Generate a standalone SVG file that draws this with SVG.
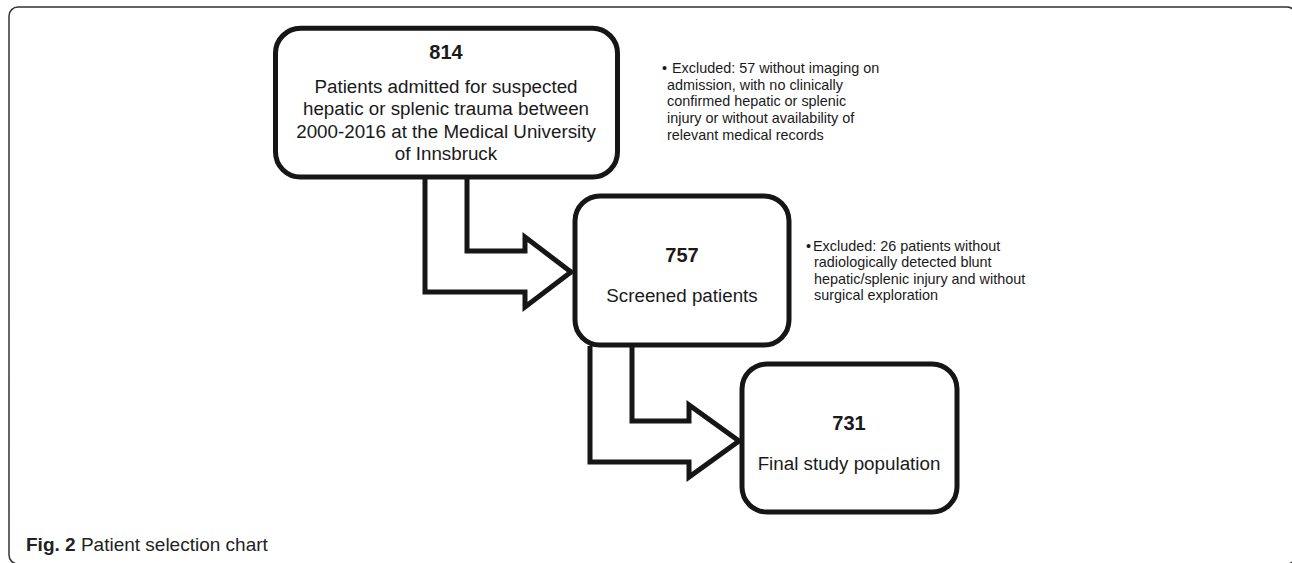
<svg xmlns="http://www.w3.org/2000/svg" width="1292" height="563" viewBox="0 0 1292 563">
<style>
.frame{fill:none;stroke:#333;stroke-width:1.5}
.box{fill:#fff;stroke:#161616;stroke-width:5}
.conn{fill:#fff;stroke:#161616;stroke-width:5;stroke-linejoin:miter;stroke-miterlimit:10}
.num{font-family:"Liberation Sans",Arial,sans-serif;font-weight:bold;font-size:20px;fill:#1a1a1a;text-anchor:middle}
.lbl{font-family:"Liberation Sans",Arial,sans-serif;font-size:18.8px;fill:#1a1a1a;text-anchor:middle}
.note{font-family:"Liberation Sans",Arial,sans-serif;font-size:14.4px;fill:#1a1a1a}
.cap{font-family:"Liberation Sans",Arial,sans-serif;font-size:19px;fill:#222}
</style>
<rect class="frame" x="9" y="7" width="1287" height="557" rx="9"/>
<g id="connectors">
<path class="conn" d="M425,177 V292 H525 V307 L571,272 L525,237 V251 H467 V177"/>
<path class="conn" d="M590,346 V462 H689 V477 L739,441 L689,405 V421 H632 V346"/>
</g>
<g id="node-814">
<rect class="box" x="275.5" y="28.3" width="342" height="148.7" rx="25"/>
<text class="num" x="446" y="59">814</text>
<text class="lbl" x="446" y="92.5">Patients admitted for suspected</text>
<text class="lbl" x="446" y="115">hepatic or splenic trauma between</text>
<text class="lbl" x="446" y="137.5">2000-2016 at the Medical University</text>
<text class="lbl" x="446" y="160">of Innsbruck</text>
</g>
<g id="node-757">
<rect class="box" x="575" y="196" width="214" height="149" rx="25"/>
<text class="num" x="682" y="262">757</text>
<text class="lbl" x="682" y="302">Screened patients</text>
</g>
<g id="node-731">
<rect class="box" x="742" y="364" width="215" height="148" rx="25"/>
<text class="num" x="849" y="430">731</text>
<text class="lbl" x="849" y="470">Final study population</text>
</g>
<g id="note-1">
<text class="note" x="662" y="73">•</text>
<text class="note" x="672" y="73">Excluded: 57 without imaging on</text>
<text class="note" x="667" y="89.5">admission, with no clinically</text>
<text class="note" x="667" y="106">confirmed hepatic or splenic</text>
<text class="note" x="667" y="123">injury or without availability of</text>
<text class="note" x="667" y="140">relevant medical records</text>
</g>
<g id="note-2">
<text class="note" x="806" y="250.5">•</text>
<text class="note" x="813" y="250.5">Excluded: 26 patients without</text>
<text class="note" x="814" y="267">radiologically detected blunt</text>
<text class="note" x="814" y="283.5">hepatic/splenic injury and without</text>
<text class="note" x="814" y="300">surgical exploration</text>
</g>
<text class="cap" x="26" y="551"><tspan font-weight="bold">Fig. 2</tspan> Patient selection chart</text>
</svg>
